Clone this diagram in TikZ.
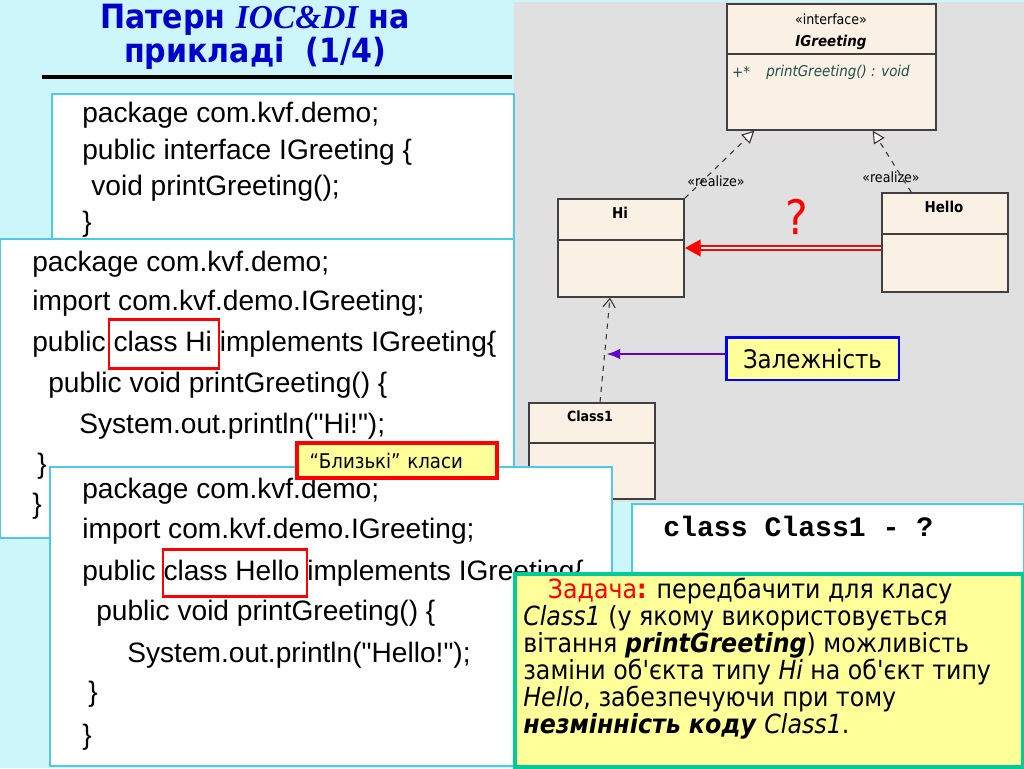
\documentclass[tikz,border=0pt]{standalone}
\usepackage{fontspec}
\setmainfont{Liberation Sans}[Ligatures=TeXOff]
\setmonofont{Liberation Mono}
\newfontfamily\tahoma{DejaVu Sans Condensed}
\newfontfamily\timesfont{Liberation Serif}
\usetikzlibrary{
    arrows.meta,
    positioning,
    calc
}
\definecolor{slidebg}{RGB}{204,246,250}
\definecolor{titleblue}{RGB}{0,0,204}
\definecolor{panelgrey}{RGB}{224,224,224}
\definecolor{umlfill}{RGB}{250,240,228}
\definecolor{boxcyan}{RGB}{80,200,235}
\definecolor{noteyellow}{RGB}{255,255,153}
\definecolor{taskgreen}{RGB}{0,204,153}
\definecolor{deppurple}{RGB}{102,0,204}
\definecolor{umlteal}{RGB}{30,80,80}

\begin{document}
\begin{tikzpicture}[
        x=0.02cm, y=-0.02cm,
        codebox/.style={draw=boxcyan, fill=white, line width=0.8pt},
        codeline/.style={anchor=west, inner sep=0pt, font=\fontsize{16}{18}\selectfont},
        hlbox/.style={draw=red, line width=1.7pt},
        umlbox/.style={draw=black!75, fill=umlfill, line width=0.8pt, minimum width=2.52cm},
        umltext/.style={inner sep=0pt, font=\tahoma\fontsize{8}{9}\selectfont},
        umlname/.style={inner sep=0pt, font=\tahoma\bfseries\fontsize{8.5}{9}\selectfont},
        realize/.style={draw=black!80, dashed, line width=0.6pt, -{Triangle[fill=white, length=7pt, width=7pt]}},
        usage/.style={draw=black!80, dashed, line width=0.6pt, -{Straight Barb[length=5pt, width=7pt]}},
        redarrow/.style={draw=red, line width=3.4pt, -{Triangle[length=9pt, width=9pt]},
            postaction={draw=white, line width=1.2pt, -, shorten >=9pt}},
        deparrow/.style={draw=deppurple, line width=1.6pt, -{Latex[length=8pt, width=6pt]}}
    ]
        \useasboundingbox (0,0) rectangle (1024,768);
        \fill[slidebg] (0,0) rectangle (1024,768);

        % Title
        \node[align=center, text=titleblue, font=\tahoma\bfseries\fontsize{19}{17}\selectfont] (title) at (255,37)
            {Патерн {\timesfont\itshape IOC\&DI} на\\прикладі~~(1/4)};
        \draw[line width=2.8pt] (42,77) -- (512,77);

        % UML panel
        \fill[panelgrey] (514,2) rectangle (1024,502);

        % Interface code
        \draw[codebox] (52,94) rectangle (514,245);
        \node[codeline] (ifa) at (82,115) {package com.kvf.demo;};
        \node[codeline] (ifb) at (82,152) {public interface IGreeting \{};
        \node[codeline] (ifc) at (91,188) {void printGreeting();};
        \node[codeline] (ifd) at (82,224) {\}};

        % Class Hi code
        \draw[codebox] (0,239) rectangle (514,538);
        \node[codeline] (hia) at (32,264) {package com.kvf.demo;};
        \node[codeline] (hib) at (32,303) {import com.kvf.demo.IGreeting;};
        \node[codeline] (hic) at (32,344) {public class Hi implements IGreeting\{};
        \node[codeline] (hid) at (48,385) {public void printGreeting() \{};
        \node[codeline] (hie) at (79,426) {System.out.println("Hi!");};
        \node[codeline] (hif) at (37,466) {\}};
        \node[codeline] (hig) at (32,506) {\}};
        \draw[hlbox] (109,319) rectangle (219,368);

        % UML classes
        \node[umlbox, minimum width=4.18cm, minimum height=2.52cm] (igreet) at (831.5,67) {};
        \draw[black!75, line width=0.8pt] (727,54) -- (936,54);
        \node[umltext] (stereo) at (831,19) {«interface»};
        \node[umlname, font=\tahoma\bfseries\itshape\fontsize{8.5}{9}\selectfont] (ifname) at (831,42) {IGreeting};
        \node[umltext, font=\tahoma\itshape\fontsize{8.5}{9}\selectfont, text=umlteal] (plus) at (741,72) {+*};
        \node[umltext, font=\tahoma\itshape\fontsize{8.5}{9}\selectfont, text=umlteal] (method) at (838,72) {printGreeting() : void};

        \node[umlbox, minimum height=1.96cm] (hi) at (621,248) {};
        \draw[black!75, line width=0.8pt] (558,240) -- (684,240);
        \node[umlname] (hiname) at (620,213) {Hi};

        \node[umlbox, minimum height=1.98cm] (hello) at (945,242.5) {};
        \draw[black!75, line width=0.8pt] (882,234) -- (1008,234);
        \node[umlname] (helloname) at (944,207) {Hello};

        \node[umlbox, minimum height=1.92cm] (class1) at (592,451) {};
        \draw[black!75, line width=0.8pt] (529,443) -- (655,443);
        \node[umlname, font=\tahoma\bfseries\fontsize{8}{9}\selectfont] (class1name) at (590,416) {Class1};

        % Realizations
        \draw[realize] (hi.north east) -- ($(igreet.south west)+(28,0)$);
        \draw[realize] ($(hello.north west)+(30,0)$) -- ($(igreet.south east)+(-64,0)$);
        \node[umltext] (realhi) at (716,181) {«realize»};
        \node[umltext] (realhello) at (891,177) {«realize»};

        % Dependency
        \draw[usage] ($(class1.north)+(8,0)$) -- ($(hi.south)+(-11,0)$);
        \coordinate (depmid) at (606,354);

        % Replacement question
        \draw[redarrow] (hello.west |- hi.east) -- (hi.east);
        \node[text=red, font=\tahoma\fontsize{27}{27}\selectfont] (question) at (797,217) {?};

        % Dependency note
        \node[draw=blue, line width=1.7pt, fill=noteyellow, minimum width=3.46cm, minimum height=0.86cm,
            font=\tahoma\fontsize{14.5}{15}\selectfont] (dep) at (812.5,358.5) {Залежність};
        \draw[deparrow] (dep.west |- depmid) -- (depmid);

        % Class Hello code
        \draw[codebox] (50,467) rectangle (612,766);
        \node[codeline] (hea) at (82,491) {package com.kvf.demo;};
        \node[codeline] (heb) at (82,531) {import com.kvf.demo.IGreeting;};
        \node[codeline] (hec) at (82,573) {public class Hello implements IGreeting\{};
        \node[codeline] (hed) at (96,613) {public void printGreeting() \{};
        \node[codeline] (hee) at (127,655) {System.out.println("Hello!");};
        \node[codeline] (hef) at (88,694) {\}};
        \node[codeline] (heg) at (82,737) {\}};
        \draw[hlbox] (163,549) rectangle (307,596);

        % Close classes note
        \node[draw=red, line width=2.2pt, fill=noteyellow, minimum width=4cm, minimum height=0.7cm,
            text width=3.5cm, align=left, font=\tahoma\fontsize{11.5}{12}\selectfont] (close) at (397,460.5) {“Близькі” класи};

        % Class1 question
        \draw[codebox] (632,504) rectangle (1024,575);
        \node[codeline, font=\ttfamily\bfseries\fontsize{16}{16}\selectfont] (class1q) at (663,526) {class Class1 - ?};

        % Task
        \node[draw=taskgreen, line width=2.2pt, fill=noteyellow, anchor=north west, minimum width=10.16cm,
            minimum height=3.86cm, inner sep=0pt] (taskbox) at (513,572) {};
        \node[anchor=north west, align=left, inner sep=0pt,
            font=\tahoma\fontsize{15}{15.3}\selectfont] (task) at (523,578) {%
            \hspace*{14pt}{\color{red}Задача\textbf{:}} передбачити для класу\\
            \textit{Class1} (у якому використовується\\
            вітання \textbf{\textit{printGreeting}}) можливість\\
            заміни об'єкта типу \textit{Hi} на об'єкт типу\\
            \textit{Hello}, забезпечуючи при тому\\
            \textbf{\textit{незмінність коду}} \textit{Class1}.};
    \end{tikzpicture}
\end{document}
